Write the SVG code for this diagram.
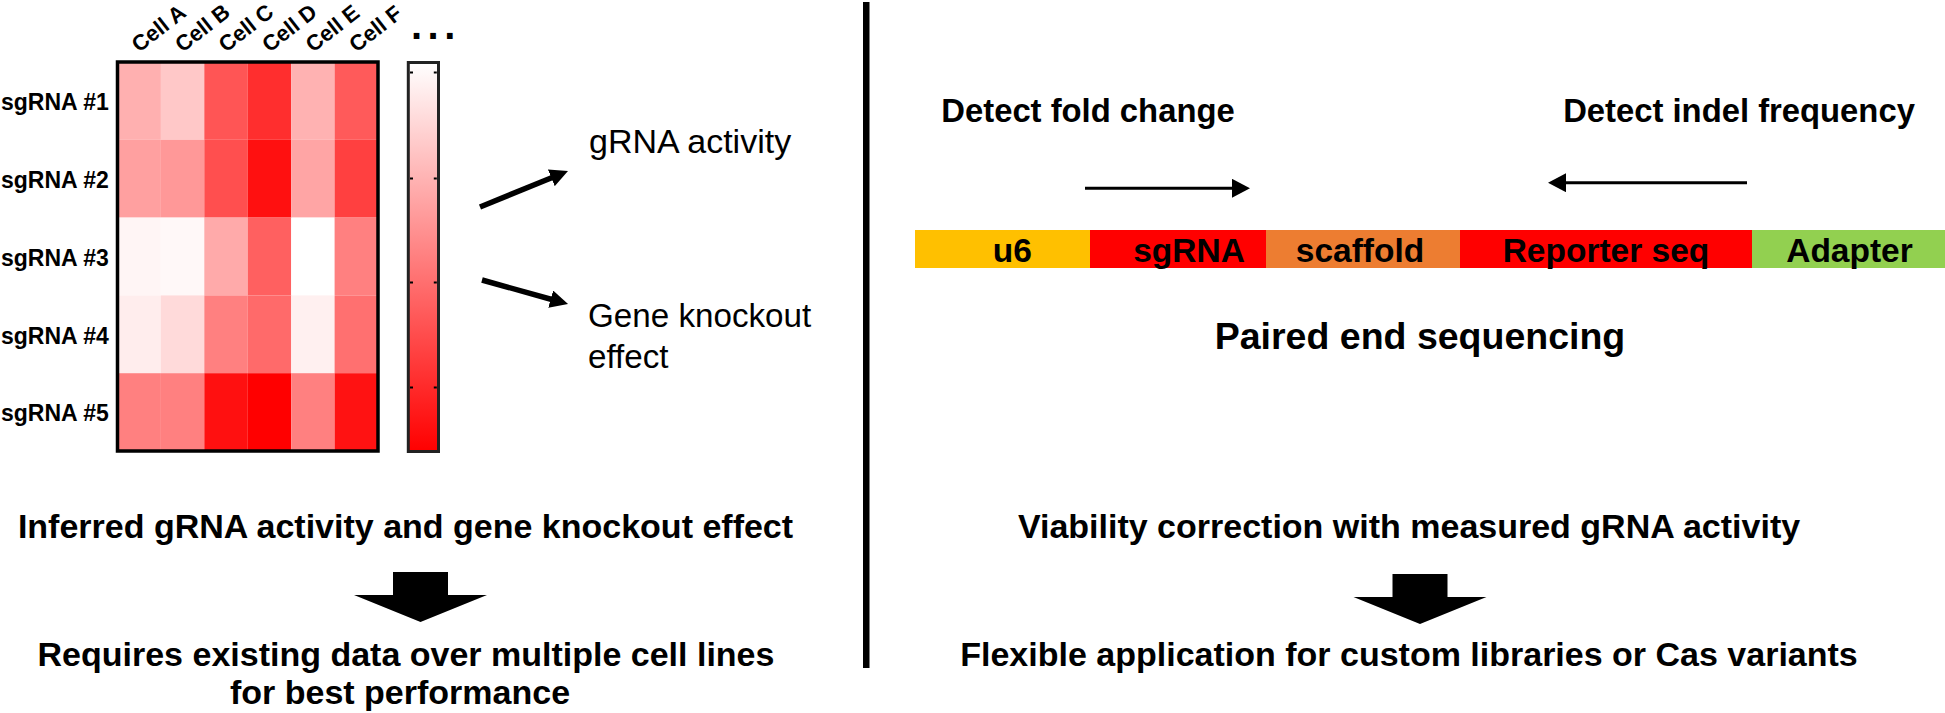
<svg xmlns="http://www.w3.org/2000/svg" width="1945" height="713" viewBox="0 0 1945 713">
<style>
text{font-family:"Liberation Sans",Arial,sans-serif;fill:#000}
.row{font-size:23px;font-weight:bold}
.col{font-size:22px;font-weight:bold}
.big{font-size:34px;font-weight:bold}
.seg{font-size:33.5px;font-weight:bold}
.hd{font-size:32.8px;font-weight:bold}
.reg{font-size:34px}
.thin{stroke:#000;stroke-width:3;fill:none}
.thick{stroke:#000;stroke-width:5.5;fill:none}
</style>
<defs>
<linearGradient id="cbar" x1="0" y1="0" x2="0" y2="1">
<stop offset="0" stop-color="#ffffff"/>
<stop offset="1" stop-color="#ff0000"/>
</linearGradient>
<marker id="ah" markerUnits="userSpaceOnUse" markerWidth="18" markerHeight="18" refX="3" refY="9" orient="auto" viewBox="0 0 18 18">
<path d="M0,0 L18,9 L0,18 Z" fill="#000"/>
</marker>
<marker id="ahs" markerUnits="userSpaceOnUse" markerWidth="18" markerHeight="19" refX="2" refY="9.5" orient="auto" viewBox="0 0 18 19">
<path d="M0,0 L18,9.5 L0,19 Z" fill="#000"/>
</marker>
</defs>
<rect width="1945" height="713" fill="#fff"/>

<g id="heatmap">
<g id="cells">
<rect x="117.5" y="62" width="43.4" height="77.8" fill="#ffb0b0"/>
<rect x="160.9" y="62" width="43.4" height="77.8" fill="#ffc8c8"/>
<rect x="204.3" y="62" width="43.5" height="77.8" fill="#ff5555"/>
<rect x="247.8" y="62" width="43.4" height="77.8" fill="#ff2e2e"/>
<rect x="291.2" y="62" width="43.4" height="77.8" fill="#ffb2b2"/>
<rect x="334.6" y="62" width="43.4" height="77.8" fill="#ff5a5a"/>

<rect x="117.5" y="139.8" width="43.4" height="77.8" fill="#ffa0a0"/>
<rect x="160.9" y="139.8" width="43.4" height="77.8" fill="#ff9898"/>
<rect x="204.3" y="139.8" width="43.5" height="77.8" fill="#ff4f4f"/>
<rect x="247.8" y="139.8" width="43.4" height="77.8" fill="#ff1010"/>
<rect x="291.2" y="139.8" width="43.4" height="77.8" fill="#ffa5a5"/>
<rect x="334.6" y="139.8" width="43.4" height="77.8" fill="#ff4040"/>

<rect x="117.5" y="217.6" width="43.4" height="77.8" fill="#fff5f5"/>
<rect x="160.9" y="217.6" width="43.4" height="77.8" fill="#fff8f8"/>
<rect x="204.3" y="217.6" width="43.5" height="77.8" fill="#ffaaaa"/>
<rect x="247.8" y="217.6" width="43.4" height="77.8" fill="#ff6060"/>
<rect x="291.2" y="217.6" width="43.4" height="77.8" fill="#ffffff"/>
<rect x="334.6" y="217.6" width="43.4" height="77.8" fill="#ff8080"/>

<rect x="117.5" y="295.4" width="43.4" height="77.8" fill="#ffeded"/>
<rect x="160.9" y="295.4" width="43.4" height="77.8" fill="#ffdada"/>
<rect x="204.3" y="295.4" width="43.5" height="77.8" fill="#ff8080"/>
<rect x="247.8" y="295.4" width="43.4" height="77.8" fill="#ff6a6a"/>
<rect x="291.2" y="295.4" width="43.4" height="77.8" fill="#fff0f0"/>
<rect x="334.6" y="295.4" width="43.4" height="77.8" fill="#ff7070"/>

<rect x="117.5" y="373.2" width="43.4" height="77.8" fill="#ff8080"/>
<rect x="160.9" y="373.2" width="43.4" height="77.8" fill="#ff8080"/>
<rect x="204.3" y="373.2" width="43.5" height="77.8" fill="#ff1010"/>
<rect x="247.8" y="373.2" width="43.4" height="77.8" fill="#ff0000"/>
<rect x="291.2" y="373.2" width="43.4" height="77.8" fill="#ff8080"/>
<rect x="334.6" y="373.2" width="43.4" height="77.8" fill="#ff1212"/>
</g>
<rect x="117.5" y="62" width="260.5" height="389" fill="none" stroke="#000" stroke-width="3.5"/>
<g id="row-labels">
<text x="1" y="110" class="row">sgRNA #1</text>
<text x="1" y="188" class="row">sgRNA #2</text>
<text x="1" y="265.5" class="row">sgRNA #3</text>
<text x="1" y="343.5" class="row">sgRNA #4</text>
<text x="1" y="421" class="row">sgRNA #5</text>
</g>
<g id="col-labels">
<text class="col" x="139" y="53" transform="rotate(-38 139 53)">Cell A</text>
<text class="col" x="182.5" y="53" transform="rotate(-38 182.5 53)">Cell B</text>
<text class="col" x="226" y="53" transform="rotate(-38 226 53)">Cell C</text>
<text class="col" x="269.5" y="53" transform="rotate(-38 269.5 53)">Cell D</text>
<text class="col" x="313" y="53" transform="rotate(-38 313 53)">Cell E</text>
<text class="col" x="356.5" y="53" transform="rotate(-38 356.5 53)">Cell F</text>
</g>
</g>

<g id="colorbar">
<rect x="408.3" y="62.5" width="30.2" height="389" fill="url(#cbar)" stroke="#222" stroke-width="3"/>
<path d="M410,72.5h3M436.8,72.5h-3M410,178.5h3M436.8,178.5h-3M410,282.5h3M436.8,282.5h-3M410,387.5h3M436.8,387.5h-3" stroke="#000" stroke-width="2"/>
<text x="411" y="39" style="font-size:40px;font-weight:bold;letter-spacing:5.5px">...</text>
</g>

<g id="outputs">
<text id="gRNA-activity" class="reg" x="589" y="153">gRNA activity</text>
<text id="gene-ko" class="reg" x="588" y="327" style="font-size:33.2px">Gene knockout<tspan x="588" y="368">effect</tspan></text>
</g>

<g id="divider">
<rect x="863" y="2" width="6.5" height="666" fill="#000"/>
</g>

<g id="construct">
<rect x="915" y="230" width="175" height="38" fill="#ffc000"/>
<rect x="1090" y="230" width="176" height="38" fill="#ff0000"/>
<rect x="1266" y="230" width="194" height="38" fill="#ed7d31"/>
<rect x="1460" y="230" width="292" height="38" fill="#ff0000"/>
<rect x="1752" y="230" width="193" height="38" fill="#92d050"/>
<text class="seg" x="1012.4" y="261.5" text-anchor="middle">u6</text>
<text class="seg" x="1189" y="261.5" text-anchor="middle">sgRNA</text>
<text class="seg" x="1360" y="261.5" text-anchor="middle">scaffold</text>
<text class="seg" x="1606" y="261.5" text-anchor="middle">Reporter seq</text>
<text class="seg" x="1849.5" y="261.5" text-anchor="middle">Adapter</text>
</g>

<g id="labels-right">
<text class="hd" x="1088" y="122" text-anchor="middle">Detect fold change</text>
<text class="hd" x="1739" y="122" text-anchor="middle">Detect indel frequency</text>
<text x="1420" y="349" text-anchor="middle" style="font-size:37.5px;font-weight:bold">Paired end sequencing</text>
</g>

<g id="bottom-left">
<text class="big" x="405.5" y="538" text-anchor="middle">Inferred gRNA activity and gene knockout effect</text>
<text class="big" x="406" y="666" text-anchor="middle">Requires existing data over multiple cell lines</text>
<text class="big" x="400" y="704" text-anchor="middle">for best performance</text>
</g>

<g id="bottom-right">
<text class="big" x="1409" y="538" text-anchor="middle">Viability correction with measured gRNA activity</text>
<text class="big" x="1409" y="666" text-anchor="middle">Flexible application for custom libraries or Cas variants</text>
</g>

<g id="connectors">
<line class="thick" x1="480" y1="207" x2="554.1" y2="176.7" marker-end="url(#ah)"/>
<line class="thick" x1="482" y1="280" x2="553.6" y2="300" marker-end="url(#ah)"/>
<line class="thin" x1="1085" y1="188.3" x2="1234" y2="188.3" marker-end="url(#ahs)"/>
<line class="thin" x1="1747" y1="182.7" x2="1564" y2="182.7" marker-end="url(#ahs)"/>
<path d="M393,572 H448 V595 H487 L420.5,622 L354,595 H393 Z" fill="#000"/>
<path d="M1392.5,574 H1447.5 V597 H1486.5 L1420,624 L1353.5,597 H1392.5 Z" fill="#000"/>
</g>
</svg>
